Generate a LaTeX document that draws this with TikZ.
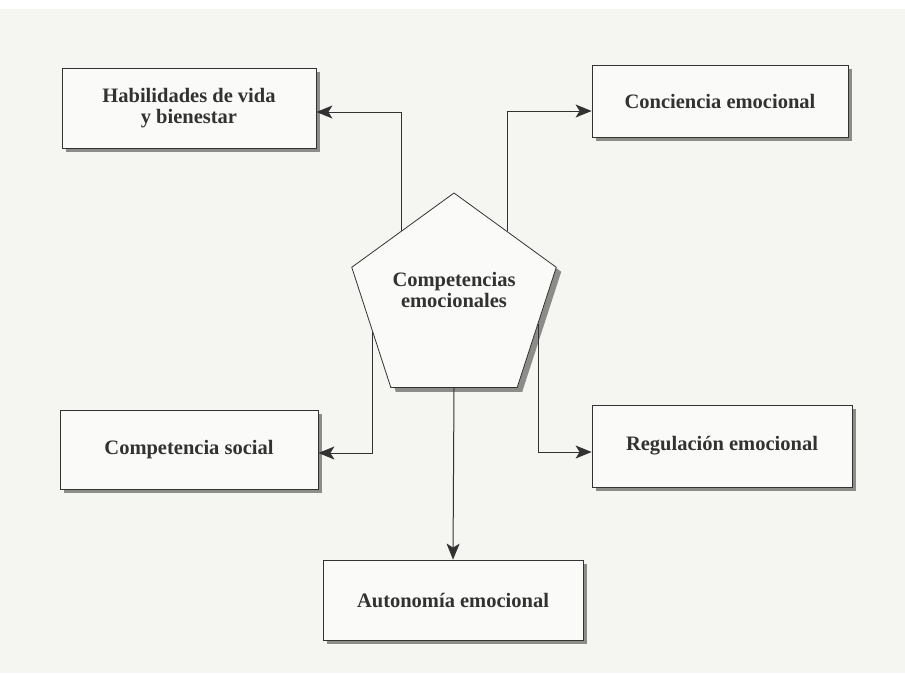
\documentclass[tikz,border=0pt]{standalone}
\usepackage{fontspec}
\setmainfont{Liberation Serif}
\usetikzlibrary{shapes.geometric,arrows.meta,calc,shadows}
\definecolor{paper}{RGB}{245,246,242}
\definecolor{boxfill}{RGB}{250,250,248}
\definecolor{ink}{RGB}{50,50,50}
\definecolor{shade}{RGB}{140,140,136}
\tikzset{
  box/.style={draw=ink, line width=0.8pt, fill=boxfill, rectangle, inner sep=0pt,
    align=center, text=ink, font=\fontsize{20.5}{21}\selectfont\bfseries,
    drop shadow={shadow xshift=4pt, shadow yshift=-4pt, fill=shade, opacity=1}},
  pentshape/.style={regular polygon, regular polygon sides=5, minimum size=215pt, inner sep=0pt},
  pentbox/.style={pentshape, draw=ink, line width=0.8pt, fill=boxfill},
  pentshadow/.style={pentshape, fill=shade},
  lbl/.style={align=center, text=ink, font=\fontsize{20.5}{21}\selectfont\bfseries, inner sep=0pt},
  conn/.style={draw=ink, line width=1pt, -{Stealth[length=16pt,width=13pt,inset=4pt]}}
}
\begin{document}
\begin{tikzpicture}[x=1pt,y=-1pt]
\useasboundingbox (0,0) rectangle (905,673);
\fill[paper] (0,0) rectangle (905,673);
\fill[white] (0,0) rectangle (905,9);

\node[box, minimum width=254pt, minimum height=80pt] (hab) at (189,108) {Habilidades de vida\\y bienestar};
\node[box, minimum width=256pt, minimum height=72pt] (con) at (720,101) {Conciencia emocional};
\node[box, minimum width=258pt, minimum height=79pt] (soc) at (189,449.5) {Competencia social};
\node[box, minimum width=260pt, minimum height=82pt] (reg) at (722,446) {Regulación emocional};
\node[box, minimum width=260pt, minimum height=80pt] (aut) at (453,600) {Autonomía emocional};

\node[pentshadow] (pentsh) at (459,305) {};
\node[pentbox] (pent) at (454,300.5) {};
\node[lbl] (pentlbl) at (454,290) {Competencias\\emocionales};

\coordinate (ul) at ($(pent.corner 1)!0.51!(pent.corner 2)$);
\coordinate (ur) at ($(pent.corner 1)!0.52!(pent.corner 5)$);
\coordinate (ll) at ($(pent.corner 2)!0.54!(pent.corner 3)$);
\coordinate (lr) at ($(pent.corner 5)!0.47!(pent.corner 4)$);
\coordinate (bm) at ($(pent.corner 3)!0.5!(pent.corner 4)$);

\draw[conn] (ul) |- ([yshift=-4pt]hab.east);
\draw[conn] (ur) |- ([yshift=-10pt]con.west);
\draw[conn] (ll) |- ([yshift=-3.5pt]soc.east);
\draw[conn] (lr) |- ([yshift=-6pt]reg.west);
\draw[conn] (bm) -- (aut.north);
\end{tikzpicture}
\end{document}
